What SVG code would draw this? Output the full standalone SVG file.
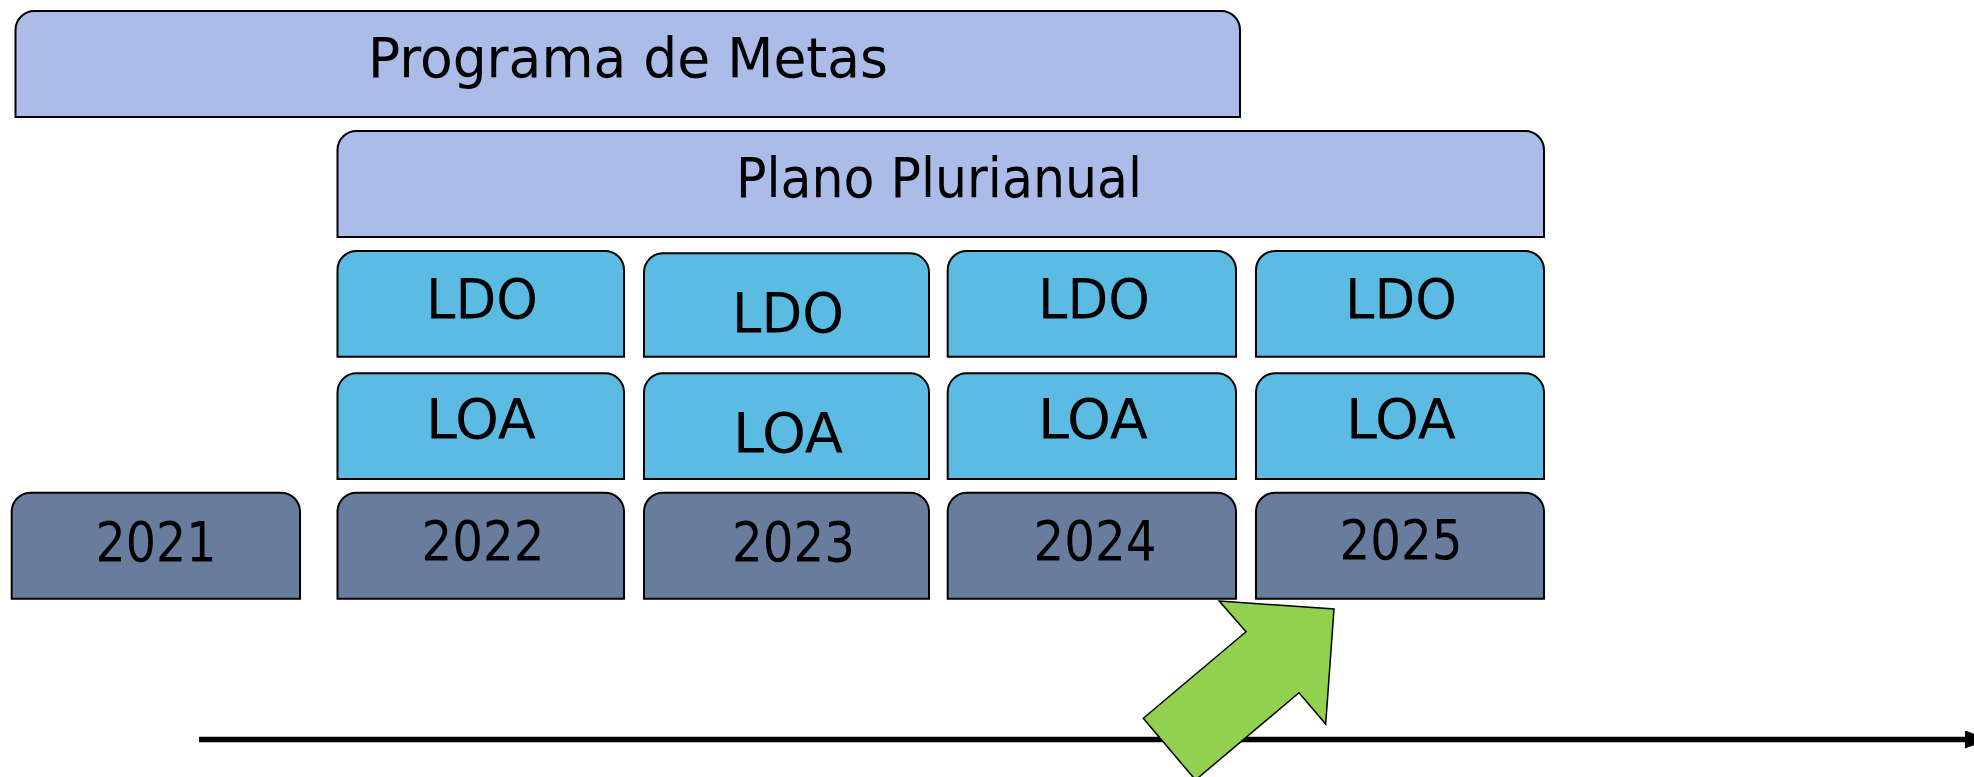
<svg xmlns="http://www.w3.org/2000/svg" width="1974" height="777" viewBox="0 0 1974 777">
<style>
.box{stroke:#000;stroke-width:2;}
.plan{fill:#ABBCE9;}
.law{fill:#5CBBE3;}
.year{fill:#687D9D;}
.t{font-family:"DejaVu Sans Condensed","DejaVu Sans",sans-serif;font-size:55px;fill:#000;text-anchor:middle;}
</style>
<defs>
<marker id="ah" markerUnits="userSpaceOnUse" markerWidth="30" markerHeight="20" refX="0" refY="9" orient="auto">
<polygon points="0,0 25,9 0,18" fill="#000"/>
</marker>
</defs>
<rect width="1974" height="777" fill="#fff"/>

<g id="programa-de-metas">
<path class="box plan" d="M15.5,117 V30 A19,19 0 0 1 34.5,11 H1221 A19,19 0 0 1 1240,30 V117 Z"/>
<text class="t" x="628" y="76.7" textLength="520" lengthAdjust="spacingAndGlyphs">Programa de Metas</text>
</g>

<g id="plano-plurianual">
<path class="box plan" d="M337.5,237 V150 A19,19 0 0 1 356.5,131 H1525 A19,19 0 0 1 1544,150 V237 Z"/>
<text class="t" x="939" y="196.7" textLength="406" lengthAdjust="spacingAndGlyphs">Plano Plurianual</text>
</g>

<g id="ldo-2022">
<path class="box law" d="M337.5,356.7 V270 A19,19 0 0 1 356.5,251 H605 A19,19 0 0 1 624,270 V356.7 Z"/>
<text class="t" x="482" y="317.7" textLength="112" lengthAdjust="spacingAndGlyphs">LDO</text>
</g>
<g id="ldo-2023">
<path class="box law" d="M644,356.7 V272.3 A19,19 0 0 1 663,253.3 H910 A19,19 0 0 1 929,272.3 V356.7 Z"/>
<text class="t" x="788" y="331.7" textLength="112" lengthAdjust="spacingAndGlyphs">LDO</text>
</g>
<g id="ldo-2024">
<path class="box law" d="M947.7,356.7 V270 A19,19 0 0 1 966.7,251 H1217 A19,19 0 0 1 1236,270 V356.7 Z"/>
<text class="t" x="1094" y="317.7" textLength="112" lengthAdjust="spacingAndGlyphs">LDO</text>
</g>
<g id="ldo-2025">
<path class="box law" d="M1256,356.7 V270 A19,19 0 0 1 1275,251 H1525 A19,19 0 0 1 1544,270 V356.7 Z"/>
<text class="t" x="1401" y="317.7" textLength="112" lengthAdjust="spacingAndGlyphs">LDO</text>
</g>

<g id="loa-2022">
<path class="box law" d="M337.5,479 V392.3 A19,19 0 0 1 356.5,373.3 H605 A19,19 0 0 1 624,392.3 V479 Z"/>
<text class="t" x="481" y="437.7" textLength="110" lengthAdjust="spacingAndGlyphs">LOA</text>
</g>
<g id="loa-2023">
<path class="box law" d="M644,479 V392.3 A19,19 0 0 1 663,373.3 H910 A19,19 0 0 1 929,392.3 V479 Z"/>
<text class="t" x="788" y="451.7" textLength="110" lengthAdjust="spacingAndGlyphs">LOA</text>
</g>
<g id="loa-2024">
<path class="box law" d="M947.7,479 V392.3 A19,19 0 0 1 966.7,373.3 H1217 A19,19 0 0 1 1236,392.3 V479 Z"/>
<text class="t" x="1093" y="437.7" textLength="110" lengthAdjust="spacingAndGlyphs">LOA</text>
</g>
<g id="loa-2025">
<path class="box law" d="M1256,479 V392.3 A19,19 0 0 1 1275,373.3 H1525 A19,19 0 0 1 1544,392.3 V479 Z"/>
<text class="t" x="1401" y="437.7" textLength="110" lengthAdjust="spacingAndGlyphs">LOA</text>
</g>

<g id="year-2021">
<path class="box year" d="M11.7,598.7 V511.7 A19,19 0 0 1 30.7,492.7 H281 A19,19 0 0 1 300,511.7 V598.7 Z"/>
<text class="t" x="156" y="560.7" textLength="121" lengthAdjust="spacingAndGlyphs">2021</text>
</g>
<g id="year-2022">
<path class="box year" d="M337.5,598.7 V511.7 A19,19 0 0 1 356.5,492.7 H605 A19,19 0 0 1 624,511.7 V598.7 Z"/>
<text class="t" x="483" y="559.5" textLength="123" lengthAdjust="spacingAndGlyphs">2022</text>
</g>
<g id="year-2023">
<path class="box year" d="M644,598.7 V511.7 A19,19 0 0 1 663,492.7 H910 A19,19 0 0 1 929,511.7 V598.7 Z"/>
<text class="t" x="793.5" y="560.7" textLength="123" lengthAdjust="spacingAndGlyphs">2023</text>
</g>
<g id="year-2024">
<path class="box year" d="M947.7,598.7 V511.7 A19,19 0 0 1 966.7,492.7 H1217 A19,19 0 0 1 1236,511.7 V598.7 Z"/>
<text class="t" x="1095" y="560" textLength="123" lengthAdjust="spacingAndGlyphs">2024</text>
</g>
<g id="year-2025">
<path class="box year" d="M1256,598.7 V511.7 A19,19 0 0 1 1275,492.7 H1525 A19,19 0 0 1 1544,511.7 V598.7 Z"/>
<text class="t" x="1401" y="559.3" textLength="123" lengthAdjust="spacingAndGlyphs">2025</text>
</g>

<g id="connectors">
<line x1="199" y1="739.5" x2="1965" y2="739.5" stroke="#000" stroke-width="5.5" marker-end="url(#ah)"/>
<polygon points="1219.3,601 1334,609 1325.7,724 1299,692.7 1195.5,780 1143.3,718.3 1246,631.7" fill="#92D050" stroke="#000" stroke-width="1.5" stroke-linejoin="miter"/>
</g>
</svg>
